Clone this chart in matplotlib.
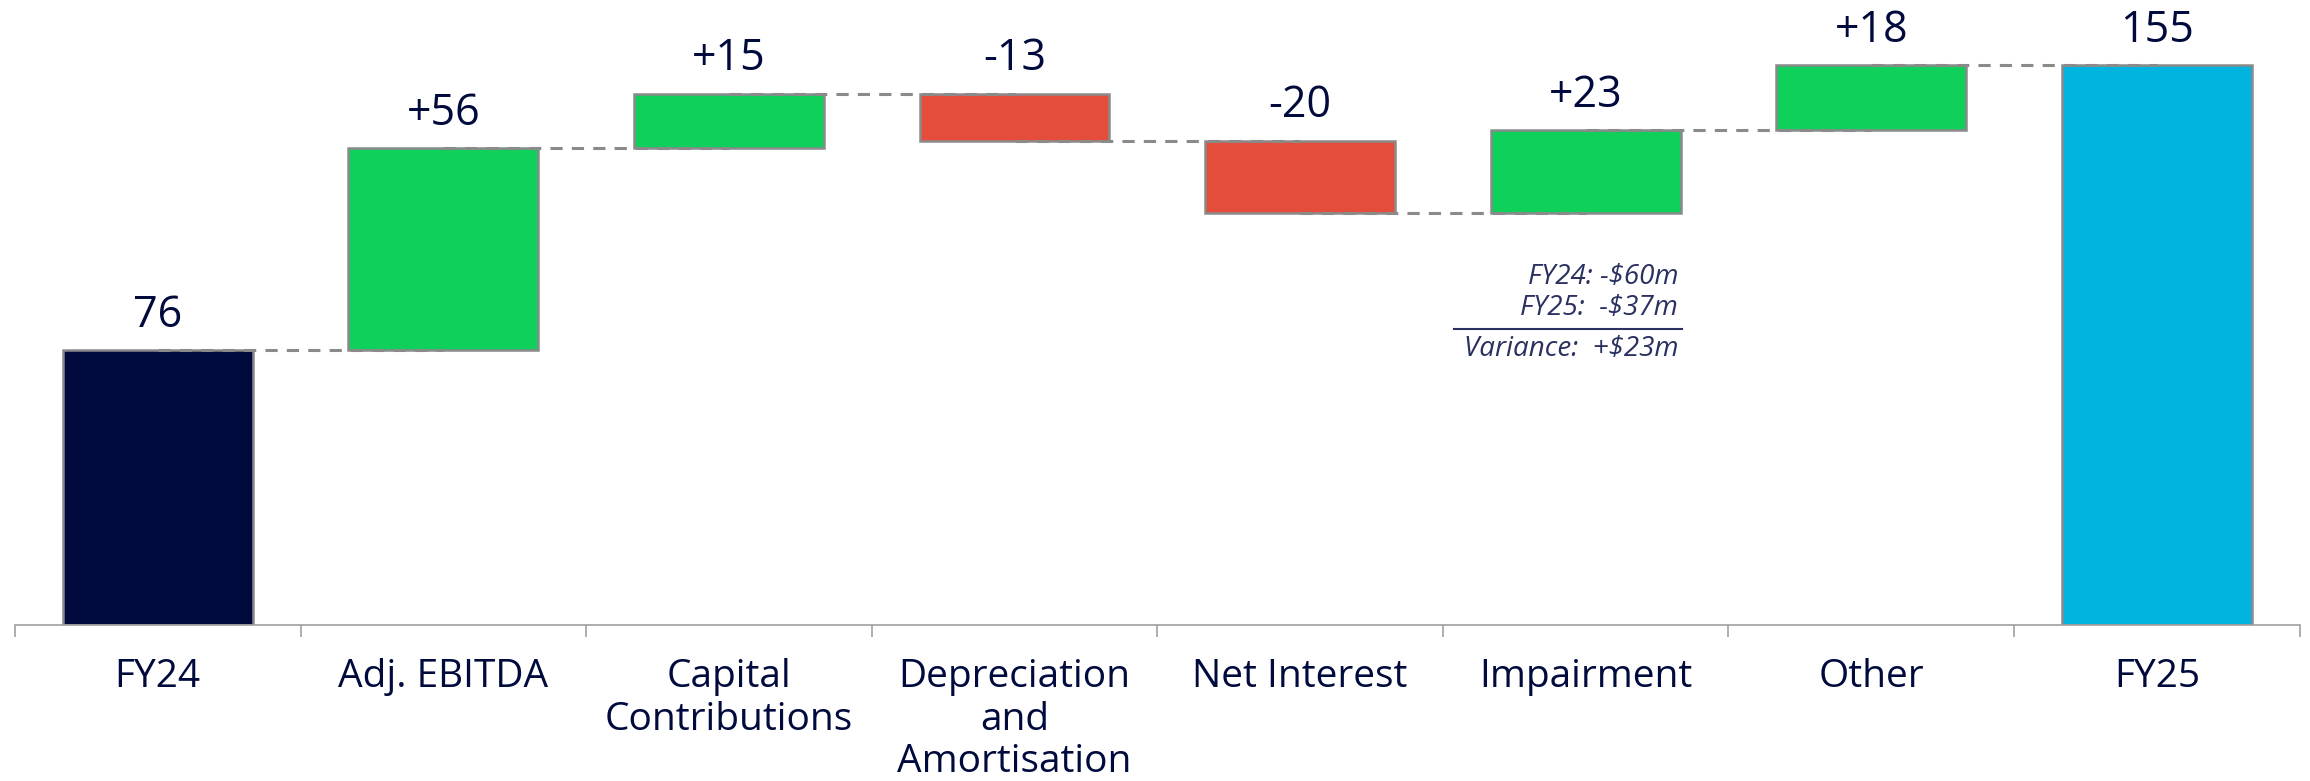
import numpy as np
import matplotlib
matplotlib.use("Agg")
import matplotlib.pyplot as plt

matplotlib.rcParams["font.family"] = ["Open Sans", "DejaVu Sans"]

categories = ["FY24", "Adj. EBITDA", "Capital\nContributions", "Depreciation\nand\nAmortisation",
              "Net Interest", "Impairment", "Other", "FY25"]
changes = [76, 56, 15, -13, -20, 23, 18, 155]
labels = ["76", "+56", "+15", "-13", "-20", "+23", "+18", "155"]
note_lines = ["FY24: -$60m", "FY25:  -$37m", "Variance:  +$23m"]

navy = "#000a3c"
green = "#0fd05a"
red = "#e44d3a"
blue = "#00b4e0"
edge = "#8a8a8a"

# running totals for the waterfall
bottoms = []
tops = []
level = 0
for i, c in enumerate(changes):
    if i == 0 or i == len(changes) - 1:
        bottoms.append(0)
        tops.append(c)
        level = c
    else:
        bottoms.append(min(level, level + c))
        tops.append(max(level, level + c))
        level = level + c
ends = np.cumsum(changes[:-1])

colors = [navy] + [green if c > 0 else red for c in changes[1:-1]] + [blue]

fig = plt.figure(figsize=(23.1, 7.81), dpi=100)
ax = fig.add_axes([0.0065, 0.1997, 0.989, 0.8003])

x = np.arange(len(categories))
heights = np.array(tops) - np.array(bottoms)
ax.bar(x, heights, bottom=bottoms, width=0.665, color=colors, edgecolor=edge, linewidth=1.8, zorder=2)

# dashed connectors from centre of one bar to the next
for i in range(len(categories) - 1):
    ax.plot([x[i], x[i + 1]], [ends[i], ends[i]], color=edge, ls=(0, (4, 3)), lw=2.2, zorder=3)

for i in range(len(categories)):
    ax.annotate(labels[i], (x[i], tops[i]), xytext=(0, 9), textcoords="offset points",
                ha="center", va="bottom", fontsize=31, color=navy)

# interest note
nc = "#2a3060"
ax.text(0.728, 0.557, note_lines[0], transform=ax.transAxes, ha="right", va="center",
        fontsize=20, style="italic", color=nc)
ax.text(0.728, 0.507, note_lines[1], transform=ax.transAxes, ha="right", va="center",
        fontsize=20, style="italic", color=nc)
ax.plot([0.630, 0.7295], [0.474, 0.474], transform=ax.transAxes, color=nc, lw=1.5)
ax.text(0.728, 0.441, note_lines[2], transform=ax.transAxes, ha="right", va="center",
        fontsize=20, style="italic", color=nc)

ax.set_xlim(-0.5, len(categories) - 0.5)
ax.set_ylim(0, 173)
ax.set_xticks(np.arange(-0.5, len(categories)))
ax.set_xticklabels([])
ax.set_xticks(x, minor=True)
ax.set_xticklabels(categories, minor=True, fontsize=28, color=navy, linespacing=1.15)
ax.tick_params(axis="x", which="major", length=8.5, width=1.2, color="#a0a0a0")
ax.tick_params(axis="x", which="minor", length=0, pad=24)
ax.set_yticks([])
for s in ["top", "right", "left"]:
    ax.spines[s].set_visible(False)
ax.spines["bottom"].set_color("#a0a0a0")
ax.spines["bottom"].set_linewidth(1.2)

fig.savefig("out.png", dpi=100)
